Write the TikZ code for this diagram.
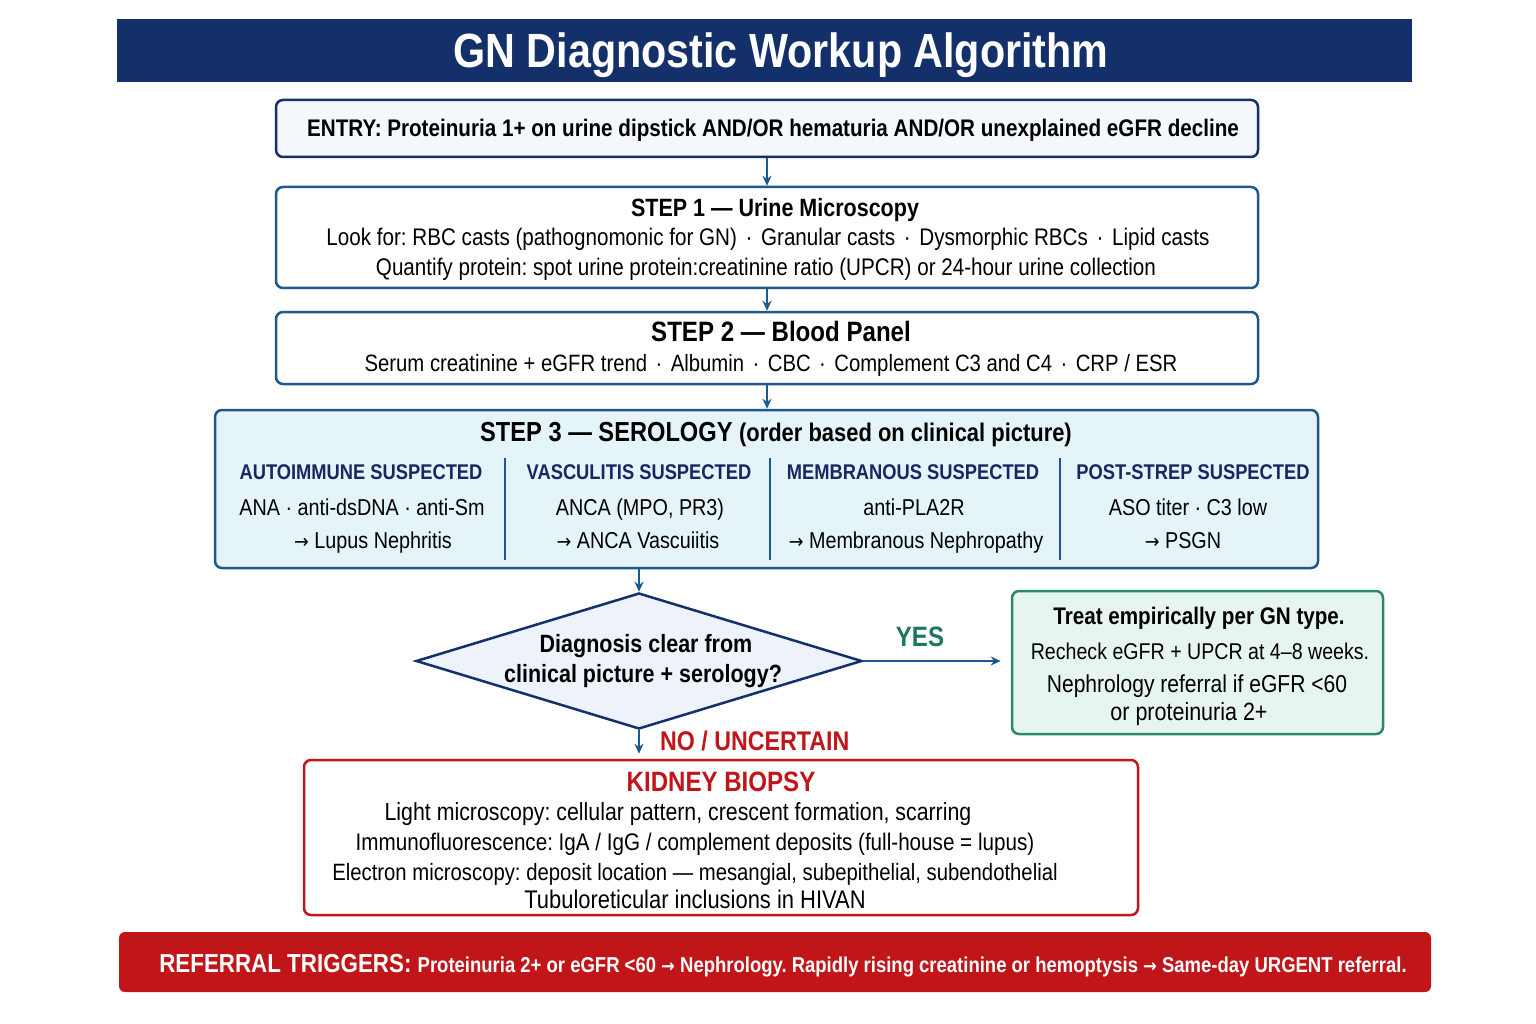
\documentclass[tikz,border=0pt]{standalone}
\usepackage{fontspec}
\setmainfont{Liberation Sans}[FakeStretch=0.86]
\newfontfamily\arrfont{DejaVu Sans}[FakeStretch=0.9]
\usetikzlibrary{arrows.meta,shapes.geometric}
\definecolor{navy}{RGB}{20,48,106}
\definecolor{boxblue}{RGB}{30,88,140}
\definecolor{hdrnavy}{RGB}{24,38,98}
\definecolor{cyanfill}{RGB}{228,244,248}
\definecolor{entryfill}{RGB}{244,247,252}
\definecolor{diafill}{RGB}{238,243,251}
\definecolor{grn}{RGB}{44,136,108}
\definecolor{grnfill}{RGB}{230,245,240}
\definecolor{yesgrn}{RGB}{26,120,95}
\definecolor{red}{RGB}{192,22,26}
\newcommand\fz[1]{\fontsize{#1}{#1}\selectfont}
\newcommand\ar{{\arrfont\fontsize{0.85em}{1em}\selectfont →}}
\newcommand\sep{\hspace{0.12em}·\hspace{0.12em}}
\begin{document}
\frenchspacing
\begin{tikzpicture}[x=1pt,y=-1pt,
  box/.style={draw=boxblue,line width=2.5pt,rounded corners=7pt,fill=white,inner sep=0pt},
  arr/.style={draw=boxblue,line width=2pt,-{Stealth[length=10pt,width=9pt]}},
  txt/.style={anchor=base,inner sep=0pt,text=black},
  divider/.style={draw=boxblue,line width=1.5pt}]
\useasboundingbox (0,0) rectangle (1536,1024);
\fill[white] (0,0) rectangle (1536,1024);

% title
\node[fill=navy,minimum width=1295pt,minimum height=63pt,inner sep=0pt] (title) at (764.5,50.5) {};
\node[txt,text=white] (titlet) at (781,68) {\fz{48}\bfseries GN Diagnostic Workup Algorithm};

% entry
\node[box,draw=navy,fill=entryfill,minimum width=982pt,minimum height=57pt] (entry) at (767,128.5) {};
\node[txt] (entryt) at (773,137) {\fz{24}\bfseries ENTRY: Proteinuria 1+ on urine dipstick AND/OR hematuria AND/OR unexplained eGFR decline};

% step 1
\node[box,minimum width=982pt,minimum height=101pt] (s1) at (767,237.5) {};
\node[txt] (s1t) at (775,217) {\fz{25}\bfseries STEP 1 — Urine Microscopy};
\node[txt] (s1a) at (768,246) {\fz{24}Look for: RBC casts (pathognomonic for GN) \sep{} Granular casts \sep{} Dysmorphic RBCs \sep{} Lipid casts};
\node[txt] (s1b) at (766,276) {\fz{24}Quantify protein: spot urine protein:creatinine ratio (UPCR) or 24-hour urine collection};

% step 2
\node[box,minimum width=982pt,minimum height=72pt] (s2) at (767,348) {};
\node[txt] (s2t) at (781,341) {\fz{28}\bfseries STEP 2 — Blood Panel};
\node[txt] (s2a) at (771,371) {\fz{23.6}Serum creatinine + eGFR trend \sep{} Albumin \sep{} CBC \sep{} Complement C3 and C4 \sep{} CRP / ESR};

% step 3
\node[box,fill=cyanfill,minimum width=1103pt,minimum height=158pt] (s3) at (766.5,489) {};
\node[txt] (s3t) at (776,441) {\fz{27.5}\bfseries STEP 3 — SEROLOGY {\fz{25.5}(order based on clinical picture)}};
\draw[divider] (505,458) -- (505,560);
\draw[divider] (770,458) -- (770,560);
\draw[divider] (1060,458) -- (1060,560);
\node[txt,text=hdrnavy] (h1) at (361,479) {\fz{21.3}\bfseries AUTOIMMUNE SUSPECTED};
\node[txt,text=hdrnavy] (h2) at (639,479) {\fz{21.3}\bfseries VASCULITIS SUSPECTED};
\node[txt,text=hdrnavy] (h3) at (913,479) {\fz{21.3}\bfseries MEMBRANOUS SUSPECTED};
\node[txt,text=hdrnavy] (h4) at (1193,479) {\fz{21.3}\bfseries POST-STREP SUSPECTED};
\node[txt] (a1) at (362,515) {\fz{23}ANA · anti-dsDNA · anti-Sm};
\node[txt] (a2) at (373,548) {\fz{23}\ar{} Lupus Nephritis};
\node[txt] (b1) at (640,515) {\fz{23}ANCA (MPO, PR3)};
\node[txt] (b2) at (638,548) {\fz{23}\ar{} ANCA Vascuiitis};
\node[txt] (c1) at (914,515) {\fz{23}anti-PLA2R};
\node[txt] (c2) at (916,548) {\fz{23}\ar{} Membranous Nephropathy};
\node[txt] (d1) at (1188,515) {\fz{23}ASO titer · C3 low};
\node[txt] (d2) at (1183,548) {\fz{23}\ar{} PSGN};

% decision
\node[diamond,draw=navy,fill=diafill,line width=2.5pt,inner sep=0pt,minimum width=446pt,minimum height=136pt] (dia) at (639,661) {};
\node[txt] (diat1) at (646,652) {\fz{25}\bfseries Diagnosis clear from};
\node[txt] (diat2) at (643,682) {\fz{25}\bfseries clinical picture + serology?};

% treat
\node[box,draw=grn,fill=grnfill,minimum width=371pt,minimum height=143pt] (treat) at (1197.5,662.5) {};
\node[txt] (tr1) at (1199,624) {\fz{24}\bfseries Treat empirically per GN type.};
\node[txt] (tr2) at (1200,659) {\fz{22.8}Recheck eGFR + UPCR at 4–8 weeks.};
\node[txt] (tr3) at (1197,692) {\fz{24.5}Nephrology referral if eGFR <60};
\node[txt] (tr4) at (1189,720) {\fz{25}or proteinuria 2+};

% biopsy
\node[box,draw=red,minimum width=834pt,minimum height=155pt] (bio) at (721,837.5) {};
\node[txt,text=red] (biot) at (721,791) {\fz{28}\bfseries KIDNEY BIOPSY};
\node[txt] (bio1) at (678,820) {\fz{24.8}Light microscopy: cellular pattern, crescent formation, scarring};
\node[txt] (bio2) at (695,850) {\fz{24}Immunofluorescence: IgA / IgG / complement deposits (full-house = lupus)};
\node[txt] (bio3) at (695,880) {\fz{23.6}Electron microscopy: deposit location — mesangial, subepithelial, subendothelial};
\node[txt] (bio4) at (695,908) {\fz{25.5}Tubuloreticular inclusions in HIVAN};

% referral bar
\node[fill=red,rounded corners=6pt,minimum width=1312pt,minimum height=60pt,inner sep=0pt] (ref) at (775,962) {};
\node[txt,text=white] (reft) at (783,972) {\fz{26}\bfseries REFERRAL TRIGGERS: {\fz{21.5}Proteinuria 2+ or eGFR <60 \ar{} Nephrology. Rapidly rising creatinine or hemoptysis \ar{} Same-day URGENT referral.}};

% connectors
\draw[arr] (entry.south) -- (s1.north);
\draw[arr] (s1.south) -- (s2.north);
\draw[arr] (s2.south) -- (s2.south |- s3.north);
\draw[arr] (s3.south -| dia.north) -- (dia.north);
\draw[arr,shorten >=10pt] (dia.east) -- (dia.east -| treat.west);
\node[txt,text=yesgrn] (yes) at (920,646) {\fz{28}\bfseries YES};
\draw[arr,shorten >=5pt] (dia.south) -- (dia.south |- bio.north);
\node[anchor=base west,inner sep=0pt,text=red] (no) at (660,750) {\fz{27}\bfseries NO / UNCERTAIN};
\end{tikzpicture}
\end{document}
